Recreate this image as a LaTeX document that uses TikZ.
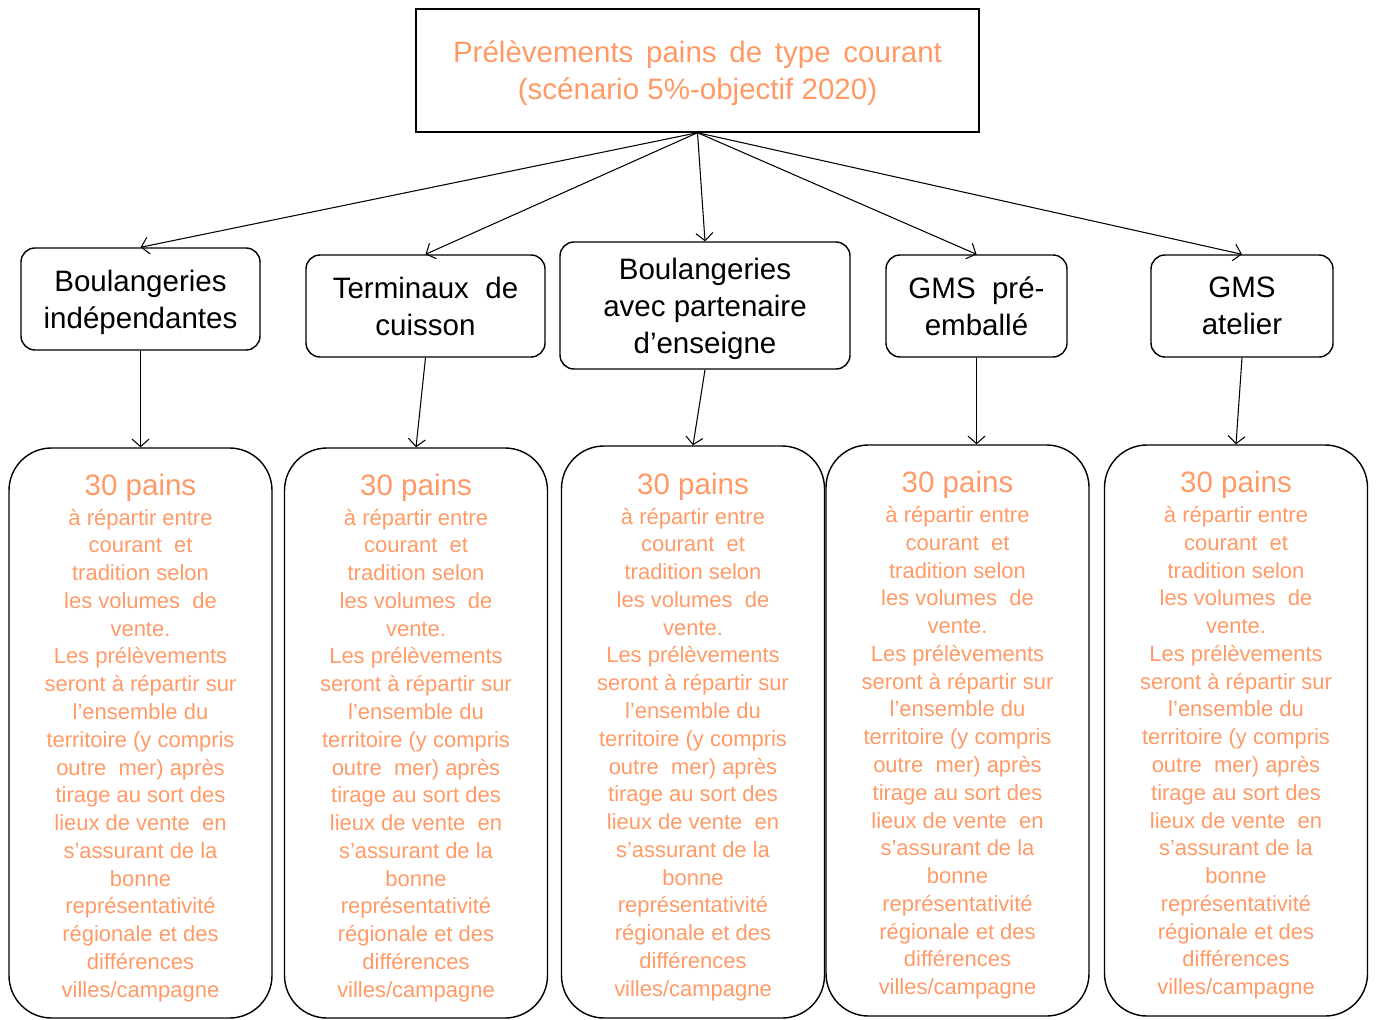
\documentclass[tikz,border=0pt]{standalone}
\usepackage{fontspec}
\setmainfont{Liberation Sans}
\usetikzlibrary{arrows.meta}

\definecolor{saumon}{HTML}{FF9A66}

\newcommand{\esp}{\hspace{0.43em}}
\newcommand{\painstexte}{%
{\fontsize{16.8}{18}\selectfont\rule{0pt}{15pt}30 pains}\\[1.2pt]
à répartir entre\\ courant\ \ et\\ tradition selon\\ les volumes\ \ de\\ vente.\\
Les prélèvements\\ seront à répartir sur\\ l’ensemble du\\ territoire (y compris\\
outre\ \ mer) après\\ tirage au sort des\\ lieux de vente\ \ en\\ s’assurant de la\\
bonne\\ représentativité\\ régionale et des\\ différences\\ villes/campagne}

\begin{document}
\begin{tikzpicture}[
  >={Straight Barb[length=1.5mm,width=3.4mm]},
  titre/.style={draw, line width=0.8pt, inner sep=0pt, align=center, text=saumon,
    text depth=0pt, font=\fontsize{16.8}{21}\selectfont},
  circuit/.style={draw, line width=0.8pt, rounded corners=0.28cm, inner sep=0pt,
    align=center, text depth=0pt, font=\fontsize{16.8}{21}\selectfont},
  pains/.style={draw, line width=0.8pt, rounded corners=0.85cm, inner sep=0pt,
    align=center, text=saumon, text depth=0pt, minimum width=5.26cm,
    font=\fontsize{12.5}{15.8}\selectfont},
  fleche/.style={->, line width=0.6pt}
]

\useasboundingbox (0,0) rectangle (27.52,-20.38);

%% Top box
\node [titre, minimum width=11.26cm, minimum height=2.46cm] (top) at (13.95,-1.41)
  {Prélèvements\esp pains\esp de\esp type\esp courant\\ (scénario 5\%-objectif 2020)};

%% Sales channels
\node [circuit, minimum width=4.78cm, minimum height=2.04cm] (b1) at (2.81,-5.98)
  {Boulangeries\\ indépendantes};
\node [circuit, minimum width=4.78cm, minimum height=2.04cm] (b2) at (8.51,-6.12)
  {Terminaux\ \ de\\ cuisson};
\node [circuit, minimum width=5.80cm, minimum height=2.54cm] (b3) at (14.10,-6.11)
  {Boulangeries\\ avec partenaire\\ d’enseigne};
\node [circuit, minimum width=3.62cm, minimum height=2.04cm] (b4) at (19.53,-6.12)
  {GMS\ \ pré-\\ emballé};
\node [circuit, minimum width=3.64cm, minimum height=2.04cm] (b5) at (24.84,-6.12)
  {GMS\\ atelier};

%% Samples per channel
\node [pains, minimum height=11.40cm] (d1) at (2.81,-14.66) {\painstexte};
\node [pains, minimum height=11.40cm] (d2) at (8.32,-14.66) {\painstexte};
\node [pains, minimum height=11.44cm] (d3) at (13.86,-14.64) {\painstexte};
\node [pains, minimum height=11.42cm] (d4) at (19.15,-14.61) {\painstexte};
\node [pains, minimum height=11.42cm] (d5) at (24.72,-14.61) {\painstexte};

%% Arrows
\foreach \i in {1,...,5} {
  \draw [fleche] (top.south) -- (b\i.north);
}
\draw [fleche] (b1.south) -- (d1.north);
\draw [fleche] (b2.south) -- (d2.north);
\draw [fleche] (b3.south) -- (d3.north);
\draw [fleche] (b4.south) -- (b4.south |- d4.north);
\draw [fleche] (b5.south) -- (d5.north);

\end{tikzpicture}
\end{document}
